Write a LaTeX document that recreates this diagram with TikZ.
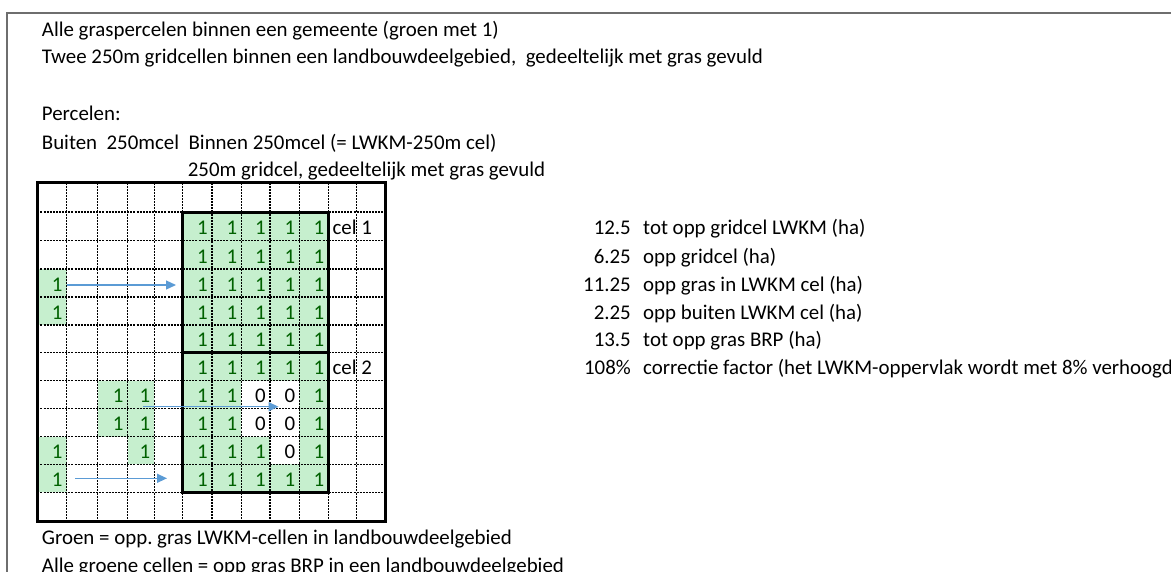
\documentclass[tikz,border=0pt]{standalone}
\usepackage{fontspec}
\setmainfont{Carlito}
\usetikzlibrary{arrows.meta}
\definecolor{grasfill}{HTML}{C6EFCE}
\definecolor{grastext}{HTML}{006100}
\definecolor{arrowblue}{HTML}{5B9BD5}
\definecolor{framegrey}{HTML}{6E6E6E}
\frenchspacing
\begin{document}
\begin{tikzpicture}[x=1pt,y=-1pt,
  txt/.style={anchor=base west, inner sep=0pt, font=\fontsize{20.9}{24}\selectfont},
  num/.style={anchor=base east, inner sep=0pt, font=\fontsize{20.9}{24}\selectfont},
  gnum/.style={num, text=grastext},
  dotline/.style={line width=1.3pt, dash pattern=on 2pt off 1.1pt},
  boxline/.style={line width=3pt},
  flow/.style={arrowblue, line width=1.3pt, -{Triangle[length=10pt,width=9pt]}},
]
\clip (0,0) rectangle (1171,571);
\fill[white] (0,0) rectangle (1171,571);
% frame
\draw[framegrey, line width=1.4pt] (7,580) -- (7,13) -- (1180,13);

% grid coordinates
\foreach \k/\x in {0/37.3,1/66.7,2/97.7,3/127.7,4/154.3,5/182.7,6/212,7/241.3,8/270,9/299.3,10/328.3,11/356.7,12/385}
  \coordinate (c\k) at (\x,0);
\foreach \k/\y in {0/182.5,1/212,2/240.3,3/269,4/297,5/325,6/352.7,7/380.7,8/408.3,9/436.7,10/464.3,11/492.3,12/521.5}
  \coordinate (r\k) at (0,\y);
\coordinate (xk) at (631,0);
\coordinate (xd) at (643,0);

% green cells with 1
\foreach \i/\j in {3/0,4/0,7/2,7/3,8/2,8/3,9/0,9/3,10/0,
  1/5,1/6,1/7,1/8,1/9, 2/5,2/6,2/7,2/8,2/9, 3/5,3/6,3/7,3/8,3/9,
  4/5,4/6,4/7,4/8,4/9, 5/5,5/6,5/7,5/8,5/9, 6/5,6/6,6/7,6/8,6/9,
  7/5,7/6,7/9, 8/5,8/6,8/9, 9/5,9/6,9/7,9/9, 10/5,10/6,10/7,10/8,10/9}{
  \pgfmathtruncatemacro\ii{\i+1}
  \pgfmathtruncatemacro\jj{\j+1}
  \fill[grasfill] (c\j |- r\i) rectangle (c\jj |- r\ii);
  \node[gnum, xshift=-4pt, yshift=6pt] (v\i-\j) at (c\jj |- r\ii) {1};
}
% zero cells
\foreach \i/\j in {7/7,7/8,8/7,8/8,9/8}{
  \pgfmathtruncatemacro\ii{\i+1}
  \pgfmathtruncatemacro\jj{\j+1}
  \node[num, xshift=-4pt, yshift=6pt] (z\i-\j) at (c\jj |- r\ii) {0};
}

% dotted grid lines
\foreach \k in {1,...,11}{
  \draw[dotline] (c\k |- r0) -- (c\k |- r12);
  \draw[dotline] (c0 |- r\k) -- (c12 |- r\k);
}
% thick borders
\draw[boxline] (c0 |- r0) rectangle (c12 |- r12);
\draw[boxline] (c5 |- r1) rectangle (c10 |- r11);
\draw[boxline] (c5 |- r6) -- (c10 |- r6);

% cell labels
\node[txt, xshift=4pt, yshift=6pt] (cel1) at (c10 |- r2) {cel 1};
\node[txt, xshift=4pt, yshift=6pt] (cel2) at (c10 |- r7) {cel 2};

% arrows
\coordinate (a1s) at (66.7,285);
\coordinate (a1e) at (176,285);
\coordinate (a2s) at (143.3,406.7);
\coordinate (a2e) at (278.5,406.7);
\coordinate (a3s) at (75,478.3);
\coordinate (a3e) at (167,478.3);
\draw[flow] (a1s) -- (a1e);
\draw[flow] (a2s) -- (a2e);
\draw[flow] (a3s) -- (a3e);

% top texts
\node[txt] (t1) at (41.7,36) {Alle graspercelen binnen een gemeente (groen met 1)};
\node[txt] (t2) at (41.7,63.5) {Twee 250m gridcellen binnen een landbouwdeelgebied,\ \ gedeeltelijk met gras gevuld};
\node[txt] (t3) at (41.7,120.7) {Percelen:};
\node[txt] (t4) at (41.7,149) {Buiten\ \ 250mcel\ \ Binnen 250mcel (= LWKM-250m cel)};
\node[txt] (t5) at (187.7,176) {250m gridcel, gedeeltelijk met gras gevuld};

% bottom texts
\node[txt] (b1) at (41.7,544.5) {Groen = opp. gras LWKM-cellen in landbouwdeelgebied};
\node[txt] (b2) at (41.7,572.5) {Alle groene cellen = opp gras BRP in een landbouwdeelgebied};

% right-hand figures
\foreach \n/\v/\t/\row in {1/12.5/tot opp gridcel LWKM (ha)/2,
  2/6.25/opp gridcel (ha)/3,
  3/11.25/opp gras in LWKM cel (ha)/4,
  4/2.25/opp buiten LWKM cel (ha)/5,
  5/13.5/tot opp gras BRP (ha)/6,
  6/108\%/correctie factor (het LWKM-oppervlak wordt met 8\% verhoogd/7}{
  \node[num, yshift=6pt] (k\n) at (xk |- r\row) {\v};
  \node[txt, yshift=6pt] (d\n) at (xd |- r\row) {\t};
}
\end{tikzpicture}
\end{document}
